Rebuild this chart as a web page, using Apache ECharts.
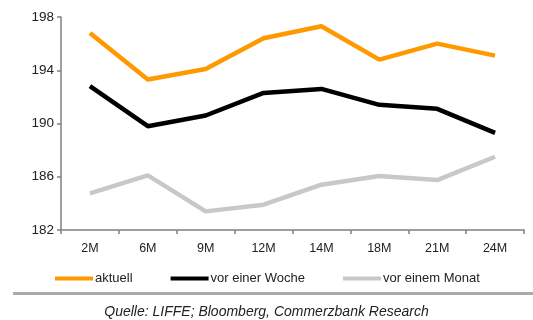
<!DOCTYPE html>
<html>
<head>
<meta charset="utf-8">
<script src="https://cdn.jsdelivr.net/npm/echarts@6/dist/echarts.min.js"></script>
<style>
  html, body { margin: 0; padding: 0; background: #fff; }
  #chart { width: 533px; height: 320px; }
</style>
</head>
<body>
<div id="chart"></div>
<script>
// Laufzeiten
const categories = ['2M', '6M', '9M', '12M', '14M', '18M', '21M', '24M']
// Kurven
const aktuell = [196.8, 193.3, 194.1, 196.4, 197.3, 194.8, 196.0, 195.1]
const vorEinerWoche = [192.8, 189.8, 190.6, 192.3, 192.6, 191.4, 191.1, 189.3]
const vorEinemMonat = [184.75, 186.1, 183.4, 183.9, 185.4, 186.05, 185.75, 187.5]
// Achsenbeschriftung
const yTicks = [182, 186, 190, 194, 198]

const font = '"Liberation Sans", Arial, sans-serif'

const chart = echarts.init(document.getElementById('chart'), null, { renderer: 'canvas' })

const mkSeries = (name, data, color) => ({
  name: name,
  type: 'line',
  data: data,
  symbol: 'none',
  lineStyle: { width: 4.5, color: color },
  itemStyle: { color: color },
  animation: false
})

chart.setOption({
  animation: false,
  textStyle: { fontFamily: font },
  grid: { left: 61, right: 9, top: 17, bottom: 90 },
  xAxis: {
    type: 'category',
    data: categories,
    boundaryGap: true,
    axisLine: { lineStyle: { color: '#808080', width: 1.5 } },
    axisTick: { show: true, length: 4, lineStyle: { color: '#808080', width: 1.5 } },
    axisLabel: { color: '#222', fontSize: 12.5, fontFamily: font, margin: 12 }
  },
  yAxis: {
    type: 'value',
    min: 182,
    max: 198,
    axisLine: { show: true, lineStyle: { color: '#808080', width: 1.5 } },
    axisTick: { show: true, length: 4, customValues: yTicks, lineStyle: { color: '#808080', width: 1.5 } },
    axisLabel: { color: '#222', fontSize: 13.5, fontFamily: font, margin: 7, customValues: yTicks },
    splitLine: { show: false }
  },
  legend: {
    left: 50,
    top: 267,
    icon: 'rect',
    itemWidth: 38,
    itemHeight: 4,
    itemGap: 38,
    textStyle: { color: '#222', fontSize: 13, fontFamily: font, padding: [0, 0, 0, -3] },
    data: ['aktuell', 'vor einer Woche', 'vor einem Monat']
  },
  title: {
    text: 'Quelle: LIFFE; Bloomberg, Commerzbank Research',
    left: 'center',
    top: 300,
    textStyle: { fontSize: 14, fontWeight: 'normal', fontStyle: 'italic', color: '#222', fontFamily: font }
  },
  graphic: [{
    type: 'rect',
    left: 13,
    top: 292,
    shape: { width: 520, height: 3 },
    style: { fill: '#aaaaaa' }
  }],
  series: [
    mkSeries('aktuell', aktuell, '#ff9900'),
    mkSeries('vor einer Woche', vorEinerWoche, '#000000'),
    mkSeries('vor einem Monat', vorEinemMonat, '#c8c8c8')
  ]
})
</script>
</body>
</html>
